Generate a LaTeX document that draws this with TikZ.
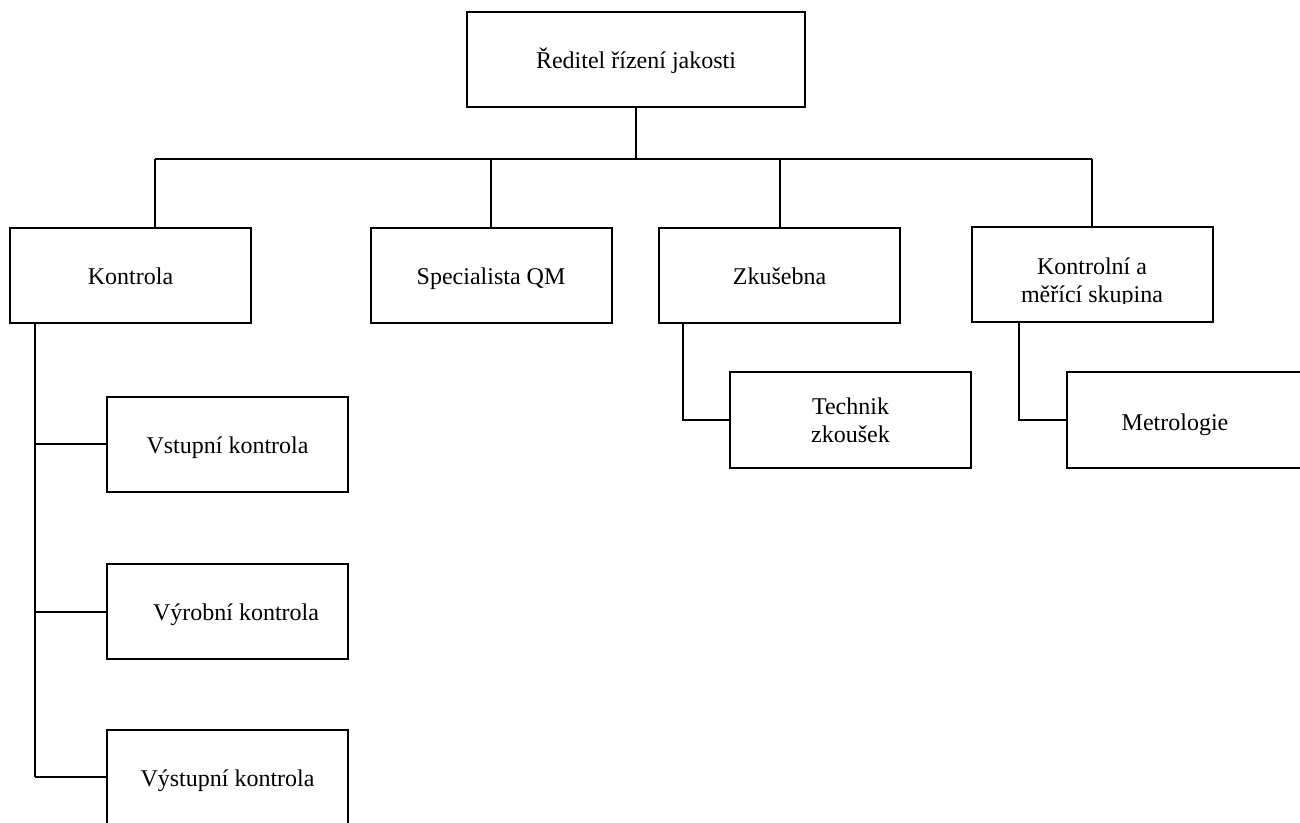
\documentclass[tikz,border=0pt]{standalone}
\usepackage{fontspec}
\setmainfont{Liberation Serif}
\tikzset{
  box/.style={draw, rectangle, line width=1pt, minimum width=120.5pt, minimum height=47.5pt,
    inner sep=0pt, align=center, font=\fontsize{12pt}{13.8pt}\selectfont},
  onebox/.style={box, text height=10pt, text depth=0.9pt},
  txt/.style={inner sep=0pt, align=center, font=\fontsize{12pt}{13.8pt}\selectfont},
  link/.style={draw, line width=1pt, -}
}
\begin{document}
\begin{tikzpicture}[x=0.5pt,y=-0.5pt]
\clip (0,0) rectangle (1300,823);
\fill[white] (0,0) rectangle (1300,823);

\node[onebox, minimum width=169pt] (reditel) at (636,59.5) {Ředitel řízení jakosti};
\node[onebox] (kontrola) at (130.5,275.5) {Kontrola};
\node[onebox] (specialista) at (491,275.5) {Specialista QM};
\node[onebox] (zkusebna) at (779.5,275.5) {Zkušebna};
\node[box] (kontrolni) at (1092,275) {};
\node[box] (technik) at (850.5,420) {Technik\\zkoušek};
\node[box] (metrologie) at (1187.5,420) {};
\node[txt, text height=10pt, text depth=0.9pt] (metrologietext) at (1175,421) {Metrologie};
\node[onebox] (vstupni) at (227.5,444) {Vstupní kontrola};
\node[onebox] (vyrobni) at (227.5,611.5) {\hspace*{8.5pt}Výrobní kontrola};
\node[onebox] (vystupni) at (227.5,777) {Výstupní kontrola};

% text of the box is cut off at the bottom
\begin{scope}
\clip (kontrolni.north west) rectangle ([yshift=10pt]kontrolni.south east);
\node[txt] (kontrolnitext) at (1092,283) {Kontrolní a\\měřící skupina};
\end{scope}

\coordinate (bl) at (155,159);
\coordinate (br) at (1092,159);
\coordinate (ks) at (35,323);
\coordinate (zs) at (683,323);
\coordinate (ms) at (1019,323);

\path[link] (bl) -- (br);
\path[link] (reditel.south) -- (reditel.south |- bl);
\path[link] (bl) -- (bl |- kontrola.north);
\path[link] (specialista.north |- bl) -- (specialista.north);
\path[link] (zkusebna.north |- bl) -- (zkusebna.north);
\path[link] (br) -- (kontrolni.north);

\path[link] (ks) -- (ks |- vystupni.west);
\path[link] (ks |- vstupni.west) -- (vstupni.west);
\path[link] (ks |- vyrobni.west) -- (vyrobni.west);
\path[link] (ks |- vystupni.west) -- (vystupni.west);

\path[link] (zs) -- (zs |- technik.west) -- (technik.west);
\path[link] (ms) -- (ms |- metrologie.west) -- (metrologie.west);
\end{tikzpicture}
\end{document}
